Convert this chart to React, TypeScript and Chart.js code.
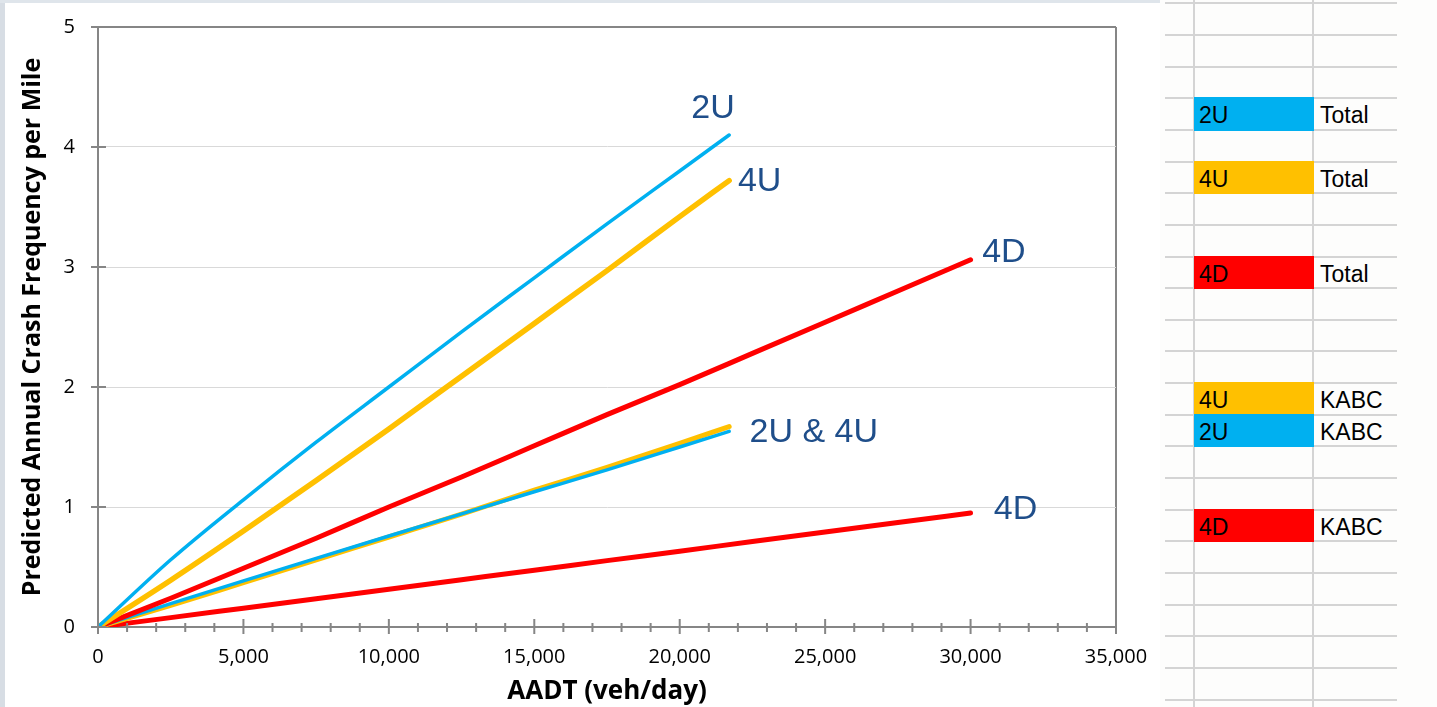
import React, { useEffect, useRef } from "react";
import { Chart, registerables } from "chart.js";

Chart.register(...registerables);

// ---------- data ----------
const AADT_U = [0, 2500, 5000, 7500, 10000, 12500, 15000, 17500, 20000, 21700];
const AADT_D = [0, 2500, 5000, 7500, 10000, 12500, 15000, 17500, 20000, 22500, 25000, 27500, 30000];

const TOTAL_2U = [0, 0.56, 1.06, 1.54, 2.0, 2.46, 2.91, 3.36, 3.8, 4.1];
const TOTAL_4U = [0, 0.39, 0.8, 1.22, 1.65, 2.09, 2.53, 2.97, 3.42, 3.72];
const TOTAL_4D = [0, 0.24, 0.49, 0.74, 1.0, 1.25, 1.51, 1.77, 2.02, 2.28, 2.54, 2.8, 3.06];
const KABC_2U = [0, 0.195, 0.385, 0.572, 0.758, 0.943, 1.127, 1.31, 1.5, 1.63];
const KABC_4U = [0, 0.18, 0.37, 0.56, 0.75, 0.94, 1.14, 1.33, 1.53, 1.67];
const KABC_4D = [0, 0.078, 0.157, 0.236, 0.315, 0.394, 0.473, 0.553, 0.632, 0.712, 0.791, 0.871, 0.95];

const X_MIN = 0;
const X_MAX = 35000;
const X_MINOR_STEP = 1000;
const X_MAJOR_STEP = 5000;
const Y_MIN = 0;
const Y_MAX = 5;
const Y_STEP = 1;

const X_TITLE = "AADT (veh/day)";
const Y_TITLE = "Predicted Annual Crash Frequency per Mile";

// in-plot text labels (anchored at data coordinates: left edge / baseline)
const LINE_LABELS = ["2U", "4U", "4D", "2U & 4U", "4D"];
const LINE_LABEL_X = [20400, 22000, 30400, 22400, 30800];
const LINE_LABEL_Y = [4.24, 3.63, 3.04, 1.54, 0.9];

// spreadsheet legend
const LEGEND_CODES = ["2U", "4U", "4D", "4U", "2U", "4D"];
const LEGEND_TYPES = ["Total", "Total", "Total", "KABC", "KABC", "KABC"];
const LEGEND_ROWS = [3, 5, 8, 12, 13, 16];

const BLUE = "#00B0F0";
const ORANGE = "#FFC000";
const RED = "#FF0000";
const LEGEND_COLORS = [BLUE, ORANGE, RED, ORANGE, BLUE, RED];

const AXIS_GRAY = "#868686";
const GRID_GRAY = "#d9d9d9";
const LABEL_BLUE = "#1F4E8A";

const pts = (xs: number[], ys: number[]) => xs.map((x, i) => ({ x, y: ys[i] }));

const crossTicks = {
  id: "crossTicks",
  afterDraw(chart: any) {
    const { ctx, chartArea } = chart;
    const xs = chart.scales.x;
    const ys = chart.scales.y;
    ctx.save();
    ctx.strokeStyle = AXIS_GRAY;
    ctx.lineWidth = 2;
    ctx.beginPath();
    xs.ticks.forEach((t: any) => {
      const px = xs.getPixelForValue(t.value);
      const major = t.value % X_MAJOR_STEP === 0;
      ctx.moveTo(px, chartArea.bottom - (major ? 8 : 4));
      ctx.lineTo(px, chartArea.bottom + (major ? 7 : 5));
    });
    ys.ticks.forEach((t: any) => {
      const py = ys.getPixelForValue(t.value);
      ctx.moveTo(chartArea.left - 7, py);
      ctx.lineTo(chartArea.left + 8, py);
    });
    ctx.stroke();
    ctx.restore();
  },
};

const lineLabels = {
  id: "lineLabels",
  afterDatasetsDraw(chart: any) {
    const { ctx } = chart;
    const xs = chart.scales.x;
    const ys = chart.scales.y;
    ctx.save();
    ctx.font = '34px "Liberation Sans", Arial, sans-serif';
    ctx.fillStyle = LABEL_BLUE;
    ctx.textAlign = "left";
    ctx.textBaseline = "alphabetic";
    LINE_LABELS.forEach((txt, i) => {
      ctx.fillText(txt, xs.getPixelForValue(LINE_LABEL_X[i]), ys.getPixelForValue(LINE_LABEL_Y[i]));
    });
    ctx.restore();
  },
};

const ROW_H = 31.65;
const ROW0 = 3.3;

export default function App() {
  const ref = useRef<HTMLCanvasElement>(null);

  useEffect(() => {
    const canvas = ref.current!;
    const mk = (data: any[], color: string, width: number) => ({
      data,
      borderColor: color,
      backgroundColor: color,
      borderWidth: width,
      borderCapStyle: "round" as const,
      borderJoinStyle: "round" as const,
      pointRadius: 0,
      pointHoverRadius: 0,
      fill: false,
      cubicInterpolationMode: "monotone" as const,
    });
    const chart = new Chart(canvas, {
      type: "line",
      data: {
        datasets: [
          mk(pts(AADT_U, TOTAL_2U), BLUE, 3.5),
          mk(pts(AADT_U, TOTAL_4U), ORANGE, 5.5),
          mk(pts(AADT_D, TOTAL_4D), RED, 5),
          mk(pts(AADT_U, KABC_2U), BLUE, 3.5),
          mk(pts(AADT_U, KABC_4U), ORANGE, 5),
          mk(pts(AADT_D, KABC_4D), RED, 5),
        ],
      },
      options: {
        animation: false,
        responsive: false,
        events: [],
        layout: { padding: { left: 0, top: 27, right: 44, bottom: 0 } },
        plugins: {
          legend: { display: false },
          tooltip: { enabled: false },
        },
        scales: {
          x: {
            type: "linear",
            min: X_MIN,
            max: X_MAX,
            afterFit: (s: any) => {
              s.height = 80;
              s.paddingLeft = 0;
              s.paddingRight = 0;
            },
            ticks: {
              stepSize: X_MINOR_STEP,
              autoSkip: false,
              maxRotation: 0,
              minRotation: 0,
              padding: 18,
              color: "#000",
              font: { family: '"Open Sans", sans-serif', size: 20 },
              callback: (v: any) => (Number(v) % X_MAJOR_STEP === 0 ? Number(v).toLocaleString("en-US") : ""),
            },
            grid: {
              drawTicks: false,
              lineWidth: 2,
              color: (c: any) => (c.tick && c.tick.value === X_MAX ? AXIS_GRAY : "rgba(0,0,0,0)"),
            },
            border: { color: AXIS_GRAY, width: 2 },
            title: {
              display: true,
              text: X_TITLE,
              color: "#000",
              font: { family: '"Open Sans", sans-serif', size: 26, weight: "bold" },
              padding: { top: 0, bottom: 0 },
            },
          },
          y: {
            type: "linear",
            min: Y_MIN,
            max: Y_MAX,
            afterFit: (s: any) => {
              s.width = 98;
              s.paddingTop = 0;
              s.paddingBottom = 0;
            },
            ticks: {
              stepSize: Y_STEP,
              padding: 23,
              color: "#000",
              font: { family: '"Open Sans", sans-serif', size: 20 },
            },
            grid: {
              drawTicks: false,
              lineWidth: (c: any) => (c.tick && c.tick.value === Y_MAX ? 2 : 1),
              color: (c: any) =>
                c.tick && (c.tick.value === Y_MAX || c.tick.value === Y_MIN) ? AXIS_GRAY : GRID_GRAY,
            },
            border: { color: AXIS_GRAY, width: 2 },
            title: {
              display: true,
              text: Y_TITLE,
              color: "#000",
              font: { family: '"Open Sans", sans-serif', size: 25, weight: "bold" },
              padding: { top: 18, bottom: 0 },
            },
          },
        },
      },
      plugins: [crossTicks, lineLabels],
    } as any);
    return () => chart.destroy();
  }, []);

  const hLines = [];
  for (let k = 0; k < 23; k++) {
    hLines.push(
      <div
        key={"h" + k}
        style={{
          position: "absolute",
          left: 1165,
          width: 232,
          top: ROW0 + ROW_H * k - 1,
          height: 2,
          background: "#d4d4d4",
        }}
      />
    );
  }

  return (
    <div style={{ position: "fixed", left: 0, top: 0, width: 1437, height: 707, background: "#fff", overflow: "hidden" }}>
      <canvas
        ref={ref}
        width={1160}
        height={707}
        style={{ position: "absolute", left: 0, top: 0, width: 1160, height: 707 }}
      />
      <div style={{ position: "absolute", left: 0, top: 0, width: 5, height: 707, background: "#d7dde4" }} />
      <div style={{ position: "absolute", left: 0, top: 0, width: 1160, height: 3, background: "#dfe5eb" }} />
      <div style={{ position: "absolute", left: 1160, top: 0, width: 277, height: 707, background: "#fdfdfc" }} />
      {hLines}
      <div style={{ position: "absolute", left: 1193, top: 0, width: 2, height: 707, background: "#d4d4d4" }} />
      <div style={{ position: "absolute", left: 1312, top: 0, width: 2, height: 707, background: "#d4d4d4" }} />
      {LEGEND_CODES.map((code, i) => {
        const top = ROW0 + ROW_H * LEGEND_ROWS[i] - 1;
        return (
          <React.Fragment key={"lg" + i}>
            <div
              style={{
                position: "absolute",
                left: 1194,
                top,
                width: 120,
                height: ROW_H + 2,
                background: LEGEND_COLORS[i],
                font: '23px "Liberation Sans", Arial, sans-serif',
                color: "#000",
                lineHeight: ROW_H + 2 + "px",
                paddingLeft: 5,
                boxSizing: "border-box",
                paddingTop: 2,
              }}
            >
              {code}
            </div>
            <div
              style={{
                position: "absolute",
                left: 1320,
                top,
                height: ROW_H + 2,
                font: '23px "Liberation Sans", Arial, sans-serif',
                color: "#000",
                lineHeight: ROW_H + 2 + "px",
                paddingTop: 2,
                boxSizing: "border-box",
              }}
            >
              {LEGEND_TYPES[i]}
            </div>
          </React.Fragment>
        );
      })}
    </div>
  );
}
